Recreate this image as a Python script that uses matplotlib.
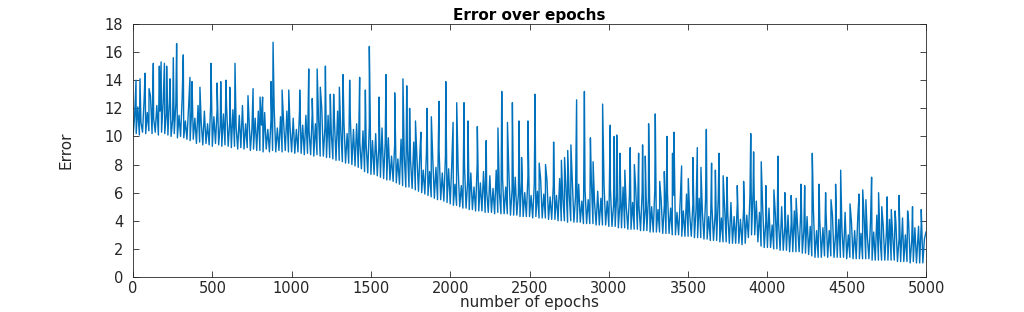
import numpy as np
import matplotlib
matplotlib.use("Agg")
import matplotlib.pyplot as plt

# base noise band, one value every 10 epochs (0 .. 5000)
base_epochs = np.arange(0, 5001, 10)
base_error = [
    10.0, 11.4, 10.2, 12.1, 10.1, 11.0, 10.3, 12.6, 10.2, 11.7, 10.4, 12.9, 10.2, 11.3, 10.3, 12.2, 10.1, 11.8, 10.3, 12.5,
    10.2, 11.6, 10.1, 12.7, 10.0, 11.2, 10.2, 12.3, 9.9, 11.5, 10.0, 12.8, 9.9, 11.1, 9.8, 12.0, 9.7, 11.9, 9.8, 11.3,
    9.5, 12.2, 9.6, 11.0, 9.4, 11.8, 9.5, 10.9, 9.4, 12.4, 9.3, 11.4, 9.5, 11.9, 9.4, 10.8, 9.3, 11.6, 9.4, 12.1,
    9.3, 11.1, 9.2, 11.9, 9.3, 10.7, 9.1, 11.5, 9.2, 12.2, 9.1, 10.9, 9.2, 11.6, 9.0, 10.6, 9.1, 11.3, 9.0, 11.8,
    9.0, 10.8, 8.9, 11.7, 9.1, 10.5, 8.9, 11.2, 9.0, 12.0, 8.9, 10.6, 9.0, 11.4, 8.9, 10.9, 9.0, 11.8, 8.9, 10.7,
    8.9, 11.3, 8.8, 10.5, 8.9, 11.9, 8.8, 10.8, 8.7, 11.5, 8.8, 10.4, 8.7, 11.7, 8.6, 10.9, 8.7, 11.2, 8.6, 12.0,
    8.6, 10.6, 8.5, 11.5, 8.5, 10.3, 8.4, 11.1, 8.3, 11.8, 8.3, 10.4, 8.2, 11.0, 8.1, 10.2, 8.1, 11.4, 8.0, 10.5,
    7.9, 10.9, 7.8, 9.6, 7.7, 10.4, 7.5, 9.4, 7.4, 10.8, 7.3, 9.7, 7.3, 10.2, 7.2, 9.3, 7.1, 10.6, 7.0, 9.5,
    6.9, 9.9, 6.9, 8.6, 6.8, 9.5, 6.7, 8.4, 6.6, 9.8, 6.5, 8.7, 6.4, 9.2, 6.4, 8.3, 6.3, 9.6, 6.2, 8.5,
    6.1, 9.1, 6.0, 7.6, 5.9, 8.8, 5.8, 7.5, 5.7, 8.4, 5.6, 7.8, 5.5, 9.0, 5.5, 7.4, 5.4, 8.6, 5.3, 7.7,
    5.2, 8.1, 5.1, 6.6, 5.1, 7.7, 5.0, 6.5, 4.9, 7.9, 4.9, 6.8, 4.8, 7.4, 4.8, 6.4, 4.7, 8.0, 4.7, 6.7,
    4.7, 7.5, 4.6, 6.1, 4.6, 7.2, 4.6, 6.3, 4.5, 7.6, 4.6, 6.0, 4.5, 7.0, 4.5, 6.4, 4.5, 7.4, 4.4, 6.2,
    4.4, 7.1, 4.4, 5.9, 4.3, 6.8, 4.3, 6.0, 4.3, 7.2, 4.3, 5.8, 4.2, 6.6, 4.3, 6.1, 4.2, 7.0, 4.2, 5.9,
    4.2, 6.9, 4.1, 5.7, 4.1, 6.5, 4.1, 5.8, 4.0, 7.0, 4.0, 5.6, 4.0, 6.4, 3.9, 5.9, 4.0, 6.8, 3.9, 5.7,
    3.9, 6.6, 3.9, 5.4, 3.8, 6.2, 3.8, 5.5, 3.8, 6.8, 3.8, 5.3, 3.7, 6.1, 3.7, 5.6, 3.7, 6.5, 3.7, 5.4,
    3.6, 6.3, 3.6, 5.1, 3.6, 5.9, 3.5, 5.2, 3.5, 6.4, 3.5, 5.0, 3.4, 5.8, 3.4, 5.3, 3.4, 6.2, 3.4, 5.1,
    3.3, 6.0, 3.3, 4.9, 3.3, 5.7, 3.2, 5.0, 3.2, 6.2, 3.2, 4.8, 3.2, 5.5, 3.1, 5.1, 3.1, 5.9, 3.1, 4.9,
    3.0, 5.8, 3.0, 4.6, 3.0, 5.4, 2.9, 4.7, 2.9, 5.9, 2.9, 4.5, 2.9, 5.2, 2.8, 4.8, 2.8, 5.6, 2.8, 4.6,
    2.7, 5.5, 2.7, 4.3, 2.6, 5.1, 2.6, 4.4, 2.6, 5.6, 2.5, 4.2, 2.5, 4.9, 2.5, 4.5, 2.4, 5.3, 2.4, 4.3,
    2.4, 5.2, 2.4, 4.1, 2.3, 4.9, 2.4, 4.4, 2.8, 5.8, 3.0, 6.2, 3.0, 5.4, 2.5, 4.6, 2.2, 5.0, 2.1, 4.0,
    2.1, 4.9, 2.1, 3.7, 2.0, 4.5, 2.0, 3.9, 1.9, 5.0, 1.9, 3.6, 1.9, 4.4, 1.8, 3.8, 1.8, 4.7, 1.8, 3.7,
    1.8, 4.6, 1.7, 3.4, 1.7, 4.3, 1.6, 3.6, 1.5, 4.8, 1.4, 3.3, 1.4, 4.1, 1.4, 3.5, 1.5, 4.5, 1.4, 3.3,
    1.5, 4.4, 1.4, 3.1, 1.4, 4.1, 1.4, 3.4, 1.4, 4.6, 1.3, 3.0, 1.4, 3.9, 1.3, 3.3, 1.3, 4.3, 1.3, 3.1,
    1.3, 4.2, 1.3, 2.9, 1.3, 3.9, 1.2, 3.2, 1.2, 4.4, 1.2, 2.8, 1.2, 3.7, 1.2, 3.1, 1.2, 4.1, 1.2, 2.9,
    1.2, 3.9, 1.1, 2.7, 1.1, 3.6, 1.1, 3.0, 1.1, 4.0, 1.0, 2.6, 1.1, 3.5, 1.0, 2.9, 1.0, 3.8, 1.0, 2.7,
    3.2,
]

# spikes above the band
spike_epochs = [
    19, 44, 76, 101, 128, 166, 177, 198, 212, 233, 254, 275, 317, 359, 372,
    422, 492, 530, 553, 586, 610, 643, 725, 757, 801, 817, 870, 883, 940, 982,
    1051, 1108, 1130, 1161, 1181, 1213, 1244, 1265, 1301, 1324, 1366, 1429,
    1465, 1490, 1551, 1595, 1650, 1702, 1726, 1744, 1781, 1815, 1854, 1881,
    1929, 1972, 2018, 2041, 2087, 2112, 2171, 2227, 2301, 2325, 2361, 2392,
    2434, 2450, 2490, 2535, 2561, 2601, 2652, 2701, 2721, 2741, 2761, 2797,
    2846, 2884, 2901, 2961, 3009, 3034, 3050, 3070, 3101, 3135, 3161, 3188,
    3213, 3230, 3251, 3293, 3321, 3350, 3367, 3401, 3411, 3459, 3501, 3530,
    3558, 3581, 3615, 3648, 3672, 3695, 3721, 3745, 3810, 3850, 3895, 3913,
    3961, 3990, 4041, 4067, 4110, 4150, 4181, 4212, 4235, 4283, 4326, 4367,
    4401, 4430, 4462, 4521, 4578, 4601, 4621, 4657, 4701, 4721, 4755, 4781,
    4805, 4830, 4852, 4884, 4915, 4953, 4970,
]
spike_error = [
    14.0, 14.1, 14.5, 13.4, 15.2, 15.0, 15.3, 15.2, 15.0, 14.1, 15.6, 16.6, 15.8, 14.2, 13.9,
    13.5, 15.2, 13.8, 13.9, 14.0, 13.5, 15.2, 12.9, 13.4, 12.8, 12.8, 13.9, 16.7, 13.3, 13.3,
    13.3, 14.8, 12.7, 14.8, 13.5, 15.0, 13.0, 13.0, 13.5, 14.4, 14.0, 14.2,
    13.3, 16.4, 12.8, 14.4, 13.1, 14.1, 13.6, 12.0, 11.1, 10.3, 12.0, 11.4,
    12.5, 13.9, 11.0, 12.4, 12.4, 11.1, 10.7, 9.7, 10.6, 13.2, 11.0, 12.4,
    11.1, 8.5, 11.1, 13.0, 8.1, 8.0, 9.6, 8.3, 8.5, 9.0, 9.4, 12.6,
    13.2, 9.9, 8.2, 12.3, 10.8, 10.0, 10.1, 8.8, 7.6, 9.2, 8.0, 8.8,
    9.4, 8.6, 10.9, 11.6, 6.8, 7.5, 10.0, 8.8, 10.3, 7.9, 7.0, 8.5,
    9.2, 7.8, 10.5, 8.1, 7.6, 8.8, 7.2, 7.1, 6.5, 6.8, 10.2, 8.9,
    8.2, 6.5, 6.2, 8.6, 6.0, 5.8, 5.6, 6.6, 6.5, 8.8, 6.6, 6.0,
    5.5, 6.6, 7.6, 5.2, 5.9, 6.2, 5.5, 7.1, 6.0, 5.0, 5.7, 4.8,
    4.7, 5.8, 4.2, 4.7, 5.0, 3.6, 4.8,
]

x_ticks = [0, 500, 1000, 1500, 2000, 2500, 3000, 3500, 4000, 4500, 5000]
y_ticks = [0, 2, 4, 6, 8, 10, 12, 14, 16, 18]


def main():
    epochs = np.concatenate([base_epochs, spike_epochs])
    error = np.concatenate([base_error, spike_error])
    order = np.argsort(epochs, kind="stable")
    epochs, error = epochs[order], error[order]

    fig = plt.figure(figsize=(10.24, 3.12), dpi=100)
    ax = fig.add_axes([0.1299, 0.1122, 0.7744, 0.811])
    ax.plot(epochs, error, color="#0072BD", lw=1.0)

    ax.set_xlim(0, 5000)
    ax.set_ylim(0, 18)
    ax.set_xticks(x_ticks)
    ax.set_yticks(y_ticks)
    ax.tick_params(direction="in", top=True, right=True, length=4,
                   width=0.6, labelsize=10.5, colors="#262626")
    ax.tick_params(axis="x", pad=3)
    ax.tick_params(axis="y", pad=7)
    for s in ax.spines.values():
        s.set_color("#262626")
        s.set_linewidth(0.6)

    ax.set_title("Error over epochs", fontsize=11, fontweight="bold", pad=3)
    ax.set_xlabel("number of epochs", fontsize=11, color="#262626")
    ax.set_ylabel("Error", fontsize=11, color="#262626")
    ax.xaxis.set_label_coords(0.5, -0.07)
    ax.yaxis.set_label_coords(-0.075, 0.5)

    fig.savefig("out.png", dpi=100)


if __name__ == "__main__":
    main()
